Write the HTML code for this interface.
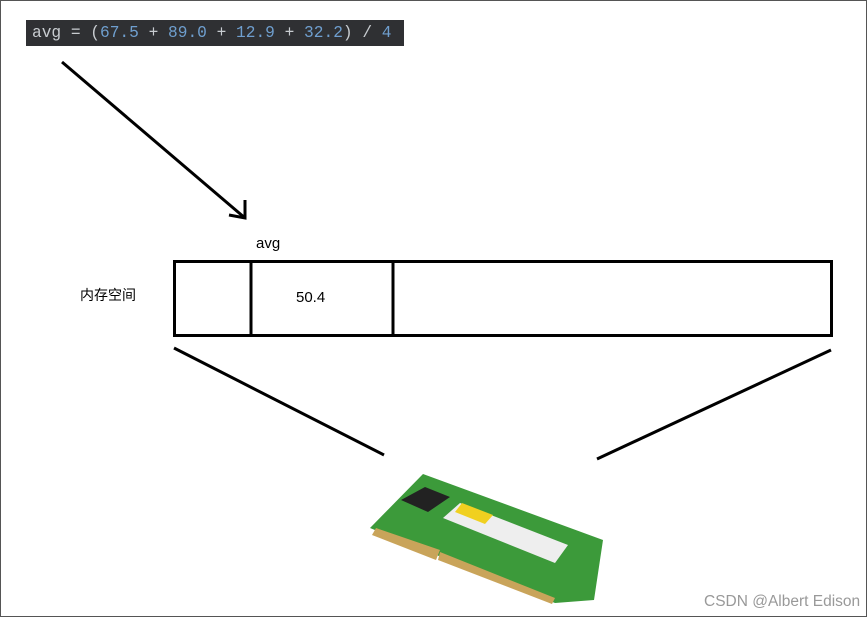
<!DOCTYPE html>
<html><head><meta charset="utf-8"><style>
body{margin:0;width:867px;height:617px;background:#fff;overflow:hidden;position:relative;font-family:"Liberation Sans","Noto Sans CJK SC",sans-serif}
.frame{position:absolute;left:0;top:0;width:865px;height:615px;border:1px solid #555}
.code{position:absolute;left:26px;top:20px;width:378px;height:26px;background:#2f3033;font-family:"Liberation Mono",monospace;font-size:16.2px;line-height:26px;color:#c8ccd0;padding-left:6px;box-sizing:border-box;white-space:pre}
.n{color:#6f9fcf}
.t{position:absolute;font-size:14px;color:#000}
</style></head><body>
<div class="frame"></div>
<div class="code">avg = (<span class="n">67.5</span> + <span class="n">89.0</span> + <span class="n">12.9</span> + <span class="n">32.2</span>) / <span class="n">4</span></div>
<svg width="867" height="617" style="position:absolute;left:0;top:0">
<g stroke="#000" stroke-width="3" fill="none">
<line x1="62" y1="62" x2="245" y2="218"/>
<polyline points="229,215 245,218 245,200"/>
<rect x="174.5" y="261.5" width="657" height="74"/>
<line x1="251" y1="261" x2="251" y2="335"/>
<line x1="393" y1="261" x2="393" y2="335"/>
<line x1="174" y1="348" x2="384" y2="455"/>
<line x1="831" y1="350" x2="597" y2="459"/>
</g>
<polygon points="370,528 423,474 603,540 594,600 555,603" fill="#3c9a3a"/>
<polygon points="376,528 440,550 436,560 372,535" fill="#c9a45a"/>
<polygon points="440,552 555,598 552,604 438,560" fill="#c9a45a"/>
<polygon points="401,500 425,487 450,497 428,512" fill="#222"/>
<polygon points="443,518 460,503 568,545 555,563" fill="#eee"/>
<polygon points="455,512 462,503 493,515 485,524" fill="#f0d020"/>
</svg>
<div class="t" style="left:256px;top:235px;font-size:15px">avg</div>
<div class="t" style="left:296px;top:289px;font-size:15px">50.4</div>
<div class="t" style="left:80px;top:285px;font-size:14px">内存空间</div>
<div class="t" style="left:704px;top:593px;font-size:15.5px;color:#999">CSDN @Albert Edison</div>
</body></html>
